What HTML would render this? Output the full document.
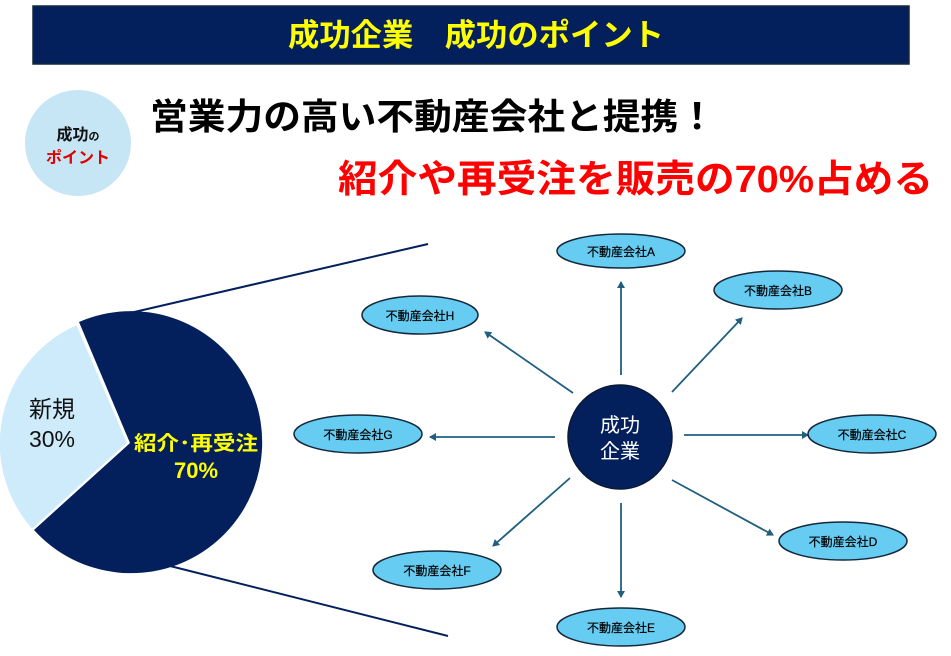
<!DOCTYPE html>
<html><head><meta charset="utf-8"><style>
html,body{margin:0;padding:0;background:#fff;width:951px;height:656px;overflow:hidden}
svg{display:block}
text{font-family:"Liberation Sans","Noto Sans CJK JP",sans-serif}
</style></head><body>
<svg width="951" height="656" viewBox="0 0 951 656" xmlns="http://www.w3.org/2000/svg">
<defs>
<marker id="ar" markerWidth="8" markerHeight="8" refX="6" refY="4" orient="auto" markerUnits="userSpaceOnUse">
<path d="M0,0 L7,4 L0,8 Z" fill="#1f5f80"/>
</marker>
</defs>
<rect x="33" y="6" width="876" height="58" fill="#03205c" stroke="#14283a" stroke-width="1.5"/>
<text x="476" y="46" text-anchor="middle" font-size="31" font-weight="bold" fill="#ffff00" textLength="376" lengthAdjust="spacingAndGlyphs">成功企業　成功のポイント</text>

<circle cx="78" cy="143" r="53" fill="#c6e5f5"/>
<text x="78" y="140" text-anchor="middle" font-size="16" font-weight="bold" fill="#111">成功<tspan font-size="11">の</tspan></text>
<text x="78" y="163" text-anchor="middle" font-size="16" font-weight="bold" fill="#e00000">ポイント</text>

<text x="150" y="129" font-size="36" font-weight="bold" fill="#000" textLength="566" lengthAdjust="spacingAndGlyphs">営業力の高い不動産会社と提携！</text>
<text x="338" y="192" font-size="38" font-weight="bold" fill="#ff0000" textLength="595" lengthAdjust="spacingAndGlyphs">紹介や再受注を販売の70%占める</text>

<line x1="130" y1="313" x2="428" y2="244" stroke="#03205c" stroke-width="2"/>
<line x1="170" y1="566" x2="448" y2="636" stroke="#03205c" stroke-width="2"/>

<path d="M130,443 L79,322 A131,131 0 1 1 34,530 Z" fill="#03205c"/>
<path d="M128,443 L77,324 A130,130 0 0 0 32,530 Z" fill="#cdebfa" stroke="#fff" stroke-width="2"/>
<text x="52" y="417" text-anchor="middle" font-size="23" fill="#111">新規</text>
<text x="52" y="447" text-anchor="middle" font-size="23" fill="#111">30%</text>
<text x="196" y="450" text-anchor="middle" font-size="20" font-weight="bold" fill="#ffff00" textLength="124" lengthAdjust="spacingAndGlyphs">紹介･再受注</text>
<text x="196" y="478" text-anchor="middle" font-size="22" font-weight="bold" fill="#ffff00">70%</text>

<g stroke="#1f5f80" stroke-width="1.8" marker-end="url(#ar)">
<line x1="621" y1="375" x2="621" y2="282"/>
<line x1="672" y1="392" x2="742" y2="318"/>
<line x1="573" y1="393" x2="485" y2="332"/>
<line x1="684" y1="435" x2="808" y2="435"/>
<line x1="555" y1="437" x2="430" y2="437"/>
<line x1="672" y1="480" x2="773" y2="535"/>
<line x1="570" y1="478" x2="493" y2="546"/>
<line x1="621" y1="503" x2="621" y2="597"/>
</g>

<circle cx="620" cy="437" r="52" fill="#03205c" stroke="#0b1a33" stroke-width="1.5"/>
<text x="620" y="432" text-anchor="middle" font-size="20" fill="#fff">成功</text>
<text x="620" y="458" text-anchor="middle" font-size="20" fill="#fff">企業</text>

<g fill="#66ccf2" stroke="#14283a" stroke-width="1.5">
<ellipse cx="621" cy="251" rx="64" ry="17"/>
<ellipse cx="778" cy="290" rx="64" ry="19"/>
<ellipse cx="420" cy="315" rx="58" ry="19"/>
<ellipse cx="872" cy="434" rx="64" ry="19"/>
<ellipse cx="358" cy="434" rx="64" ry="19"/>
<ellipse cx="843" cy="541" rx="64" ry="19"/>
<ellipse cx="437" cy="570" rx="64" ry="19"/>
<ellipse cx="621" cy="627" rx="64" ry="19"/>
</g>
<g font-size="12" fill="#000" text-anchor="middle" stroke="#000" stroke-width="0.2">
<text x="621" y="256">不動産会社A</text>
<text x="778" y="295">不動産会社B</text>
<text x="420" y="320">不動産会社H</text>
<text x="872" y="439">不動産会社C</text>
<text x="358" y="439">不動産会社G</text>
<text x="843" y="546">不動産会社D</text>
<text x="437" y="575">不動産会社F</text>
<text x="621" y="632">不動産会社E</text>
</g>
</svg>
</body></html>
